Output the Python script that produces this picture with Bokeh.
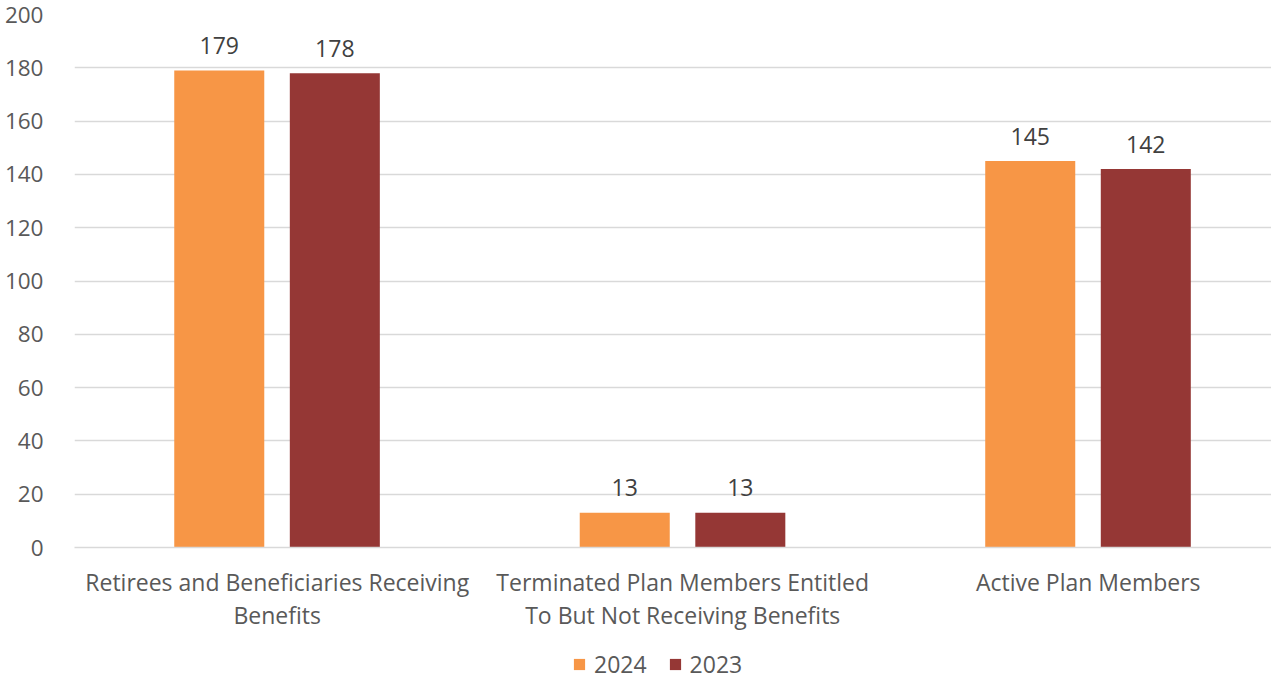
from bokeh.plotting import figure
from bokeh.layouts import column
from bokeh.models import ColumnDataSource, Range1d, FixedTicker, Legend, LegendItem, LabelSet
from bokeh.core.properties import value
from bokeh.transform import dodge
from bokeh.embed import file_html
from bokeh.resources import INLINE

categories = ["Retirees and Beneficiaries Receiving\nBenefits",
              "Terminated Plan Members Entitled\nTo But Not Receiving Benefits",
              "Active Plan Members"]
series_names = ["2024", "2023"]
values_2024 = [179, 13, 145]
values_2023 = [178, 13, 142]
y_ticks = [0, 20, 40, 60, 80, 100, 120, 140, 160, 180, 200]

colors = ["#F79646", "#953735"]
FONT = "Open Sans"

xpos = [i + 0.5 for i in range(len(categories))]
src = ColumnDataSource(dict(x=xpos, v2024=values_2024, v2023=values_2023,
                            l2024=[str(v) for v in values_2024],
                            l2023=[str(v) for v in values_2023]))

p = figure(width=1271, height=636, output_backend="svg", toolbar_location=None,
           x_range=Range1d(0, 2.952), y_range=Range1d(0, 200),
           min_border_left=74, min_border_right=0, min_border_top=14, min_border_bottom=89)
p.outline_line_color = None
p.background_fill_color = "white"
p.border_fill_color = "white"

r1 = p.vbar(x=dodge("x", -0.143, range=p.x_range), top="v2024", width=0.222, source=src,
            fill_color=colors[0], line_color=None)
r2 = p.vbar(x=dodge("x", 0.142, range=p.x_range), top="v2023", width=0.222, source=src,
            fill_color=colors[1], line_color=None)

for col, off in (("2024", -0.143), ("2023", 0.142)):
    lbl = LabelSet(x=dodge("x", off, range=p.x_range), y="v" + col, text="l" + col, source=src,
                   text_align="center", text_baseline="middle", y_offset=25,
                   text_font=value(FONT), text_font_size="23px", text_color="#404040")
    p.add_layout(lbl)

p.xgrid.visible = False
p.ygrid.grid_line_color = "#D9D9D9"
p.ygrid.grid_line_width = 1.5
p.yaxis.ticker = FixedTicker(ticks=y_ticks)
p.xaxis.ticker = FixedTicker(ticks=xpos)
p.xaxis.major_label_overrides = {x: c for x, c in zip(xpos, categories)}

for ax in (p.xaxis[0], p.yaxis[0]):
    ax.major_tick_line_color = None
    ax.minor_tick_line_color = None
    ax.major_label_text_font = FONT
    ax.major_label_text_color = "#595959"
p.yaxis.axis_line_color = None
p.yaxis.major_label_text_font_size = "22.5px"
p.yaxis.major_label_standoff = 25
p.xaxis.axis_line_color = "#D9D9D9"
p.xaxis.axis_line_width = 1.5
p.xaxis.major_label_text_font_size = "23px"
p.xaxis.major_label_standoff = 12
p.xaxis.major_label_text_line_height = 1.05

# legend strip below the chart (its bars share the data but lie outside this strip's view)
pl = figure(width=1271, height=44, output_backend="svg", toolbar_location=None,
            x_range=Range1d(-20, -19), y_range=Range1d(-20, -19),
            min_border=0, min_border_left=0, min_border_right=0,
            min_border_top=0, min_border_bottom=0)
pl.axis.visible = False
pl.grid.visible = False
pl.outline_line_color = None
pl.border_fill_color = "white"
pl.background_fill_color = "white"
lr1 = pl.vbar(x="x", top="v2024", width=0.222, source=src, fill_color=colors[0], line_color=None)
lr2 = pl.vbar(x="x", top="v2023", width=0.222, source=src, fill_color=colors[1], line_color=None)
legend = Legend(items=[LegendItem(label=series_names[0], renderers=[lr1]),
                       LegendItem(label=series_names[1], renderers=[lr2])],
                orientation="horizontal", location=(498, 0),
                glyph_width=14, glyph_height=14, label_standoff=8, spacing=21,
                label_text_font=FONT, label_text_font_size="23px", label_text_color="#595959",
                border_line_color=None, background_fill_alpha=0, padding=0, margin=0)
pl.add_layout(legend, "center")

layout = column(p, pl, spacing=0)
open("out.html", "w").write(file_html(layout, INLINE))
